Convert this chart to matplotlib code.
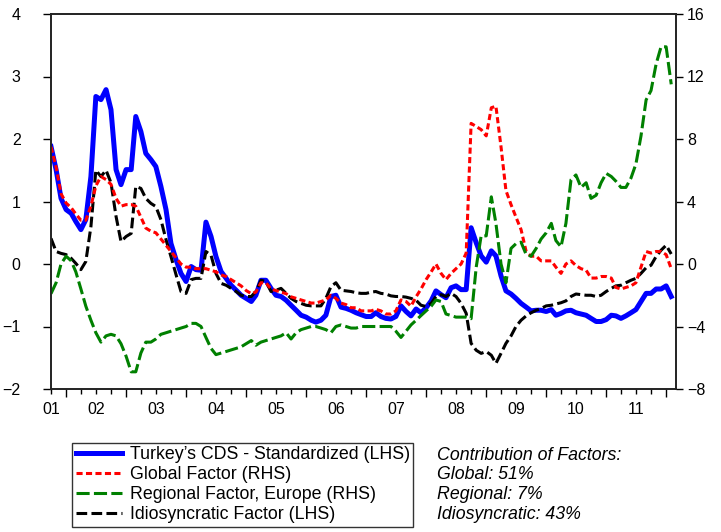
import datetime as dt

import pandas as pd
import matplotlib
matplotlib.use('Agg')
import matplotlib.pyplot as plt

plt.rcParams['font.family'] = ['Liberation Sans', 'DejaVu Sans']

# monthly observations, Oct 2001 - Feb 2012
datas = pd.date_range('2001-10-01', periods=125, freq='MS')

# Turkey CDS, standardized (LHS)
cds_turquia = [
    1.88, 1.51, 1.05, 0.87, 0.81, 0.68, 0.55, 0.71, 1.40, 2.68,
    2.63, 2.79, 2.47, 1.51, 1.27, 1.51, 1.51, 2.36, 2.12, 1.77,
    1.67, 1.56, 1.24, 0.87, 0.33, 0.07, -0.15, -0.28, -0.04, -0.09,
    -0.10, 0.67, 0.44, 0.12, -0.12, -0.23, -0.34, -0.42, -0.50, -0.55,
    -0.60, -0.50, -0.26, -0.26, -0.39, -0.50, -0.52, -0.58, -0.66, -0.74,
    -0.82, -0.85, -0.90, -0.93, -0.90, -0.82, -0.52, -0.50, -0.69, -0.71,
    -0.74, -0.78, -0.81, -0.84, -0.84, -0.78, -0.84, -0.87, -0.88, -0.84,
    -0.67, -0.76, -0.83, -0.72, -0.78, -0.70, -0.59, -0.43, -0.49, -0.54,
    -0.38, -0.35, -0.41, -0.41, 0.58, 0.34, 0.13, 0.03, 0.21, 0.13,
    -0.19, -0.43, -0.48, -0.55, -0.63, -0.69, -0.75, -0.74, -0.74, -0.76,
    -0.73, -0.82, -0.79, -0.75, -0.74, -0.78, -0.80, -0.82, -0.87, -0.92,
    -0.92, -0.89, -0.82, -0.83, -0.87, -0.83, -0.78, -0.73, -0.60, -0.47,
    -0.47, -0.40, -0.40, -0.35, -0.52,
]

# global factor (RHS)
fator_global = [
    7.5, 6.2, 4.5, 3.9, 3.6, 3.2, 2.8, 2.8, 3.7, 5.0,
    5.6, 5.4, 5.1, 4.2, 3.7, 3.8, 3.8, 3.7, 3.0, 2.3,
    2.1, 2.0, 1.6, 1.2, 0.8, 0.4, 0.0, -0.2, -0.2, -0.3,
    -0.3, -0.3, -0.4, -0.5, -0.7, -0.8, -1.0, -1.2, -1.4, -1.7,
    -1.9, -1.8, -1.2, -1.2, -1.6, -1.7, -1.8, -1.9, -2.1, -2.2,
    -2.3, -2.4, -2.5, -2.5, -2.4, -2.3, -2.0, -2.2, -2.5, -2.6,
    -2.8, -2.8, -3.0, -3.0, -3.0, -2.9, -3.0, -3.2, -3.2, -3.0,
    -2.3, -2.4, -2.7, -2.1, -1.6, -1.0, -0.5, 0.0, -0.6, -1.0,
    -0.6, -0.3, 0.0, 0.7, 9.0, 8.8, 8.6, 8.2, 10.0, 10.1,
    7.5, 4.7, 3.8, 3.0, 2.2, 0.8, 0.5, 0.5, 0.2, 0.2,
    0.2, -0.2, -0.6, 0.0, 0.2, -0.1, -0.3, -0.4, -0.9, -0.9,
    -0.8, -0.8, -0.9, -1.5, -1.6, -1.5, -1.4, -1.2, -0.2, 0.8,
    0.7, 0.8, 0.8, 0.6, -0.3,
]

# regional factor, Europe (RHS)
fator_regional = [
    -1.9, -1.2, 0.0, 0.5, 0.2, -0.5, -1.6, -2.7, -3.6, -4.4,
    -5.0, -4.6, -4.5, -4.6, -5.1, -5.9, -6.9, -6.9, -5.7, -5.0,
    -5.0, -4.8, -4.5, -4.4, -4.3, -4.2, -4.1, -4.0, -3.8, -3.8,
    -4.0, -4.7, -5.4, -5.8, -5.7, -5.6, -5.5, -5.4, -5.3, -5.1,
    -4.9, -5.2, -5.0, -4.9, -4.8, -4.7, -4.6, -4.4, -4.8, -4.4,
    -4.2, -4.1, -4.0, -4.0, -4.1, -4.2, -4.4, -4.0, -3.9, -4.0,
    -4.1, -4.1, -4.0, -4.0, -4.0, -4.0, -4.0, -4.0, -4.0, -4.3,
    -4.7, -4.3, -3.9, -3.6, -3.3, -3.0, -2.7, -2.3, -2.4, -3.2,
    -3.3, -3.4, -3.4, -3.4, -3.5, -0.2, 1.8, 1.8, 4.3, 2.6,
    0.0, -1.2, 1.0, 1.3, 1.4, 0.6, 0.5, 1.0, 1.6, 2.0,
    2.6, 1.5, 1.1, 2.6, 5.4, 5.7, 4.9, 5.2, 4.2, 4.4,
    5.2, 5.8, 5.6, 5.3, 4.9, 4.9, 5.5, 6.4, 8.2, 10.5,
    11.1, 12.8, 13.9, 13.9, 11.5,
]

# idiosyncratic factor (LHS)
fator_idio = [
    0.41, 0.20, 0.17, 0.15, 0.09, 0.01, -0.09, 0.04, 0.60, 1.50,
    1.40, 1.50, 1.30, 0.76, 0.36, 0.44, 0.49, 1.24, 1.21, 1.05,
    0.97, 0.92, 0.71, 0.39, 0.12, -0.17, -0.44, -0.47, -0.25, -0.23,
    -0.23, 0.20, 0.14, -0.15, -0.31, -0.34, -0.39, -0.44, -0.50, -0.52,
    -0.52, -0.44, -0.26, -0.28, -0.44, -0.42, -0.39, -0.47, -0.55, -0.60,
    -0.63, -0.66, -0.67, -0.67, -0.67, -0.55, -0.36, -0.30, -0.42, -0.43,
    -0.44, -0.46, -0.47, -0.47, -0.45, -0.44, -0.47, -0.48, -0.51, -0.52,
    -0.52, -0.53, -0.55, -0.58, -0.66, -0.68, -0.63, -0.52, -0.49, -0.52,
    -0.47, -0.52, -0.63, -0.79, -1.27, -1.38, -1.43, -1.40, -1.46, -1.59,
    -1.43, -1.27, -1.15, -1.00, -0.90, -0.83, -0.78, -0.74, -0.71, -0.67,
    -0.66, -0.64, -0.62, -0.59, -0.52, -0.48, -0.49, -0.50, -0.50, -0.52,
    -0.50, -0.44, -0.39, -0.35, -0.34, -0.30, -0.26, -0.23, -0.15, -0.06,
    -0.02, 0.12, 0.22, 0.30, 0.16,
]

nomes = [
    'Turkey\u2019s CDS - Standardized (LHS)',
    'Global Factor (RHS)',
    'Regional Factor, Europe (RHS)',
    'Idiosyncratic Factor (LHS)',
]
contribuicao = ['Contribution of Factors:', 'Global: 51%', 'Regional: 7%', 'Idiosyncratic: 43%']

fig = plt.figure(figsize=(7.21, 5.32), dpi=100)
ax = fig.add_axes([51 / 721, 1 - 389 / 532, 625 / 721, 375 / 532])
ax2 = ax.twinx()

l1, = ax.plot(datas, cds_turquia, color='blue', lw=3.6)
l4, = ax.plot(datas, fator_idio, color='black', lw=2.2, dashes=(3.5, 1.4), dash_capstyle='butt')
l2, = ax2.plot(datas, fator_global, color='red', lw=2.2, dashes=(2.0, 1.1), dash_capstyle='butt')
l3, = ax2.plot(datas, fator_regional, color='green', lw=2.2, dashes=(4.3, 1.4), dash_capstyle='butt')

ax.set_xlim(dt.date(2001, 10, 1), dt.date(2012, 3, 1))
ax.set_ylim(-2, 4)
ax2.set_ylim(-8, 16)
ax.set_yticks(range(-2, 5))
ax2.set_yticks(range(-8, 17, 4))

# long ticks at each January, short ticks every quarter, year label mid-year
anos = [dt.date(a, 1, 1) for a in range(2002, 2013)]
ax.set_xticks(anos, labels=[''] * len(anos))
trimestres = [d.date() for d in pd.date_range('2001-10-01', '2012-01-01', freq='QS-JAN') if d.month != 1]
rotulos = ['%02d' % (d.year % 100) if d.month == 7 or d == trimestres[0] else '' for d in trimestres]
ax.set_xticks(trimestres, labels=rotulos, minor=True)

for s in ax.spines.values():
    s.set_linewidth(1.2)
    s.set_color('#222222')
for s in ax2.spines.values():
    s.set_linewidth(1.2)
    s.set_color('#222222')

ax.tick_params(axis='y', direction='out', length=5.8, width=1, pad=16, labelsize=11.5)
ax2.tick_params(axis='y', direction='out', length=5, width=1, pad=3, labelsize=11.5)
ax.tick_params(axis='x', which='major', direction='out', length=5.8, width=1)
ax.tick_params(axis='x', which='minor', direction='out', length=3.6, width=1, pad=6, labelsize=11.5)

leg = fig.legend([l1, l2, l3, l4], nomes, loc='lower left', bbox_to_anchor=(72 / 721, 5 / 532),
                 frameon=True, fancybox=False, edgecolor='black', fontsize=12.8,
                 handlelength=2.6, handletextpad=0.45, labelspacing=0.17, borderpad=0.2,
                 borderaxespad=0)
leg.get_frame().set_linewidth(1.0)

for k, txt in enumerate(contribuicao):
    fig.text(437 / 721, 1 - (455 + 19.7 * k) / 532, txt, style='italic', fontsize=12.8, va='center')

fig.savefig('out.png', dpi=100)
